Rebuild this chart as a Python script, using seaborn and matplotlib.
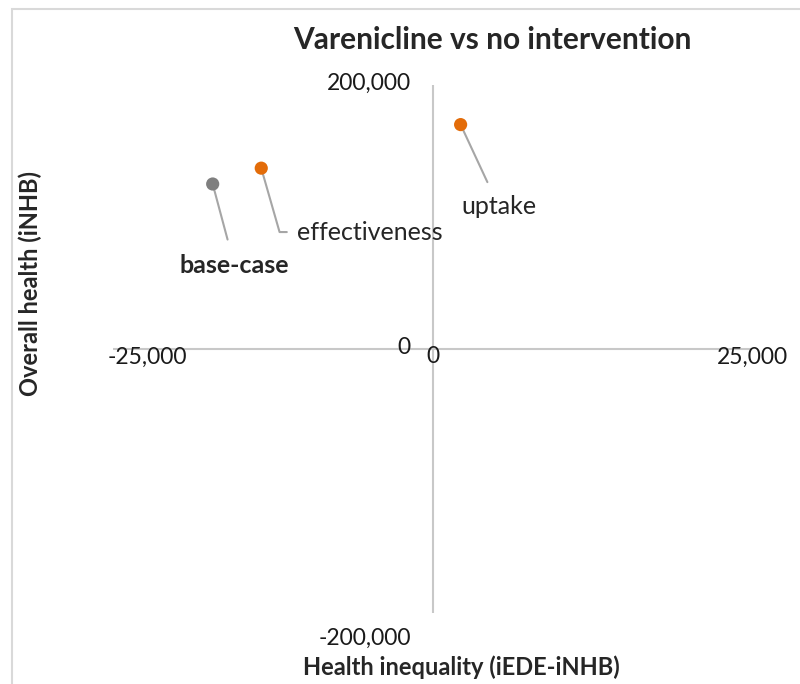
import matplotlib
matplotlib.use("Agg")
import seaborn as sns
from matplotlib import pyplot as plt
from matplotlib.patches import Rectangle
import pandas as pd

# values
scenarios = ["base-case", "effectiveness", "uptake"]
inequality = [-17200, -13400, 2200]      # iEDE-iNHB
health = [125000, 137000, 170000]        # iNHB
colors = ["#7f7f7f", "#e36c09", "#e36c09"]
xticks = [-25000, 0, 25000]
yticks = [-200000, 0, 200000]

df = pd.DataFrame({"scenario": scenarios, "x": inequality, "y": health})

sns.set_style("white")
plt.rcParams["font.family"] = ["Lato", "DejaVu Sans"]

fig = plt.figure(figsize=(8, 6.84), dpi=100)
ax = fig.add_axes([113 / 800, 1 - 613 / 684, 639 / 800, 528 / 684])

sns.scatterplot(data=df, x="x", y="y", hue="scenario", palette=colors,
                s=90, edgecolor="none", legend=False, ax=ax, zorder=5)

ax.set_xlim(xticks[0], xticks[-1])
ax.set_ylim(yticks[0], yticks[-1])
for s in ax.spines.values():
    s.set_visible(False)
ax.axhline(0, color="#c8c8c8", lw=1.5, zorder=1)
ax.axvline(0, color="#c8c8c8", lw=1.5, zorder=1)
ax.set_xticks([])
ax.set_yticks([])
ax.set_xlabel("")
ax.set_ylabel("")

# tick labels, Excel-style next to the crossing axes
tick_font = dict(fontsize=16.5, color="#1a1a1a", clip_on=False)
for v in xticks:
    off = 2700 if v == xticks[0] else 0
    ax.text(v + off, -6000, f"{v:,}", ha="center", va="center", **tick_font)
for v, dy in zip(yticks, [-19000, 1500, 1500]):
    ax.text(-1700, v + dy, f"{v:,}", ha="right", va="center", **tick_font)

# data labels with leader lines
lead = "#a6a6a6"
ax.annotate("base-case", xy=(inequality[0], health[0]), xytext=(-15500, 63600),
            ha="center", va="center", fontsize=18, fontweight="bold",
            arrowprops=dict(arrowstyle="-", color=lead, lw=1.5, shrinkA=8, shrinkB=0))
ax.annotate("effectiveness", xy=(inequality[1], health[1]), xytext=(-10600, 88600),
            ha="left", va="center", fontsize=18,
            arrowprops=dict(arrowstyle="-", color=lead, lw=1.5, shrinkA=5, shrinkB=0,
                            connectionstyle="angle,angleA=0,angleB=106,rad=0"))
ax.annotate("uptake", xy=(inequality[2], health[2]), xytext=(5200, 107600),
            ha="center", va="center", fontsize=18,
            arrowprops=dict(arrowstyle="-", color=lead, lw=1.5, shrinkA=8, shrinkB=0))

fig.text(492 / 800, 1 - 40 / 684, "Varenicline vs no intervention",
         ha="center", va="center", fontsize=21.5, fontweight="bold")
fig.text(461 / 800, 1 - 667 / 684, "Health inequality (iEDE-iNHB)",
         ha="center", va="center", fontsize=17, fontweight="bold")
fig.text(30 / 800, 1 - 284 / 684, "Overall health (iNHB)", rotation=90,
         ha="center", va="center", fontsize=17, fontweight="bold")

# chart area border (left and top visible)
fig.patches.append(Rectangle((12 / 800, -0.1), 1.2, 1 - 9 / 684 + 0.1,
                             transform=fig.transFigure, fill=False,
                             edgecolor="#d9d9d9", lw=1.5))

fig.savefig("out.png", dpi=100)
